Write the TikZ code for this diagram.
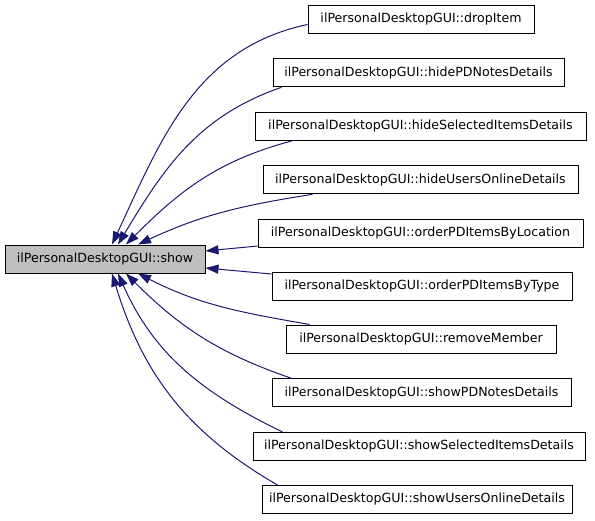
\documentclass[tikz,border=0pt]{standalone}
\usepackage{fontspec}
\setmainfont{DejaVu Sans}
\usetikzlibrary{arrows.meta}
\definecolor{edgeblue}{HTML}{191970}
\definecolor{mainfill}{HTML}{BFBFBF}
\begin{document}
\begin{tikzpicture}[x=1pt,y=1pt,
  fnbox/.style={draw=black,line width=1pt,minimum height=28pt,inner sep=0pt,
    font=\fontsize{12.6}{14}\selectfont,fill=white},
  mainbox/.style={fnbox,fill=mainfill},
  callarrow/.style={draw=edgeblue,line width=1pt,
    -{Triangle[length=13pt,width=9pt]},fill=none}]
\useasboundingbox (0,0) rectangle (595,-520);
\node[mainbox,minimum width=200pt] (show) at (105,-259) {ilPersonalDesktopGUI::show};
\node[fnbox,minimum width=226pt] (drop) at (421,-19.5) {ilPersonalDesktopGUI::dropItem};
\node[fnbox,minimum width=291pt] (hidePD) at (418.5,-72.8) {ilPersonalDesktopGUI::hidePDNotesDetails};
\node[fnbox,minimum width=331pt] (hideSel) at (420.5,-126.5) {ilPersonalDesktopGUI::hideSelectedItemsDetails};
\node[fnbox,minimum width=315pt] (hideUsr) at (420.5,-179.8) {ilPersonalDesktopGUI::hideUsersOnlineDetails};
\node[fnbox,minimum width=325pt] (ordLoc) at (420.5,-233) {ilPersonalDesktopGUI::orderPDItemsByLocation};
\node[fnbox,minimum width=300pt] (ordType) at (422,-286) {ilPersonalDesktopGUI::orderPDItemsByType};
\node[fnbox,minimum width=270pt] (remMem) at (421,-339) {ilPersonalDesktopGUI::removeMember};
\node[fnbox,minimum width=299pt] (showPD) at (421.5,-392.8) {ilPersonalDesktopGUI::showPDNotesDetails};
\node[fnbox,minimum width=332pt] (showSel) at (419,-446.5) {ilPersonalDesktopGUI::showSelectedItemsDetails};
\node[fnbox,minimum width=310pt] (showUsr) at (417,-499.5) {ilPersonalDesktopGUI::showUsersOnlineDetails};
% edges
\draw[callarrow] ([yshift=-5pt]drop.west) to[out=192,in=65] ([xshift=7pt]show.north);
\draw[callarrow] ([xshift=9pt]hidePD.south west) to[out=199,in=59] ([xshift=13pt]show.north);
\draw[callarrow] ([xshift=37pt]hideSel.south west) to[out=195,in=45] ([xshift=21pt]show.north);
\draw[callarrow] ([xshift=50pt]hideUsr.south west) to[out=189,in=25] ([xshift=33pt]show.north);
\draw[callarrow] ([yshift=-13pt]ordLoc.west) -- ([yshift=8pt]show.east);
\draw[callarrow] ([yshift=12pt]ordType.west) -- ([yshift=-9pt]show.east);
\draw[callarrow] ([xshift=24pt]remMem.north west) to[out=170,in=-27] ([xshift=33pt]show.south);
\draw[callarrow] ([xshift=20pt]showPD.north west) to[out=161,in=-45] ([xshift=21pt]show.south);
\draw[callarrow] ([xshift=30pt]showSel.north west) to[out=154,in=-66] ([xshift=13pt]show.south);
\draw[callarrow] ([xshift=16pt]showUsr.north west) to[out=150,in=-73] ([xshift=7pt]show.south);
\end{tikzpicture}
\end{document}
